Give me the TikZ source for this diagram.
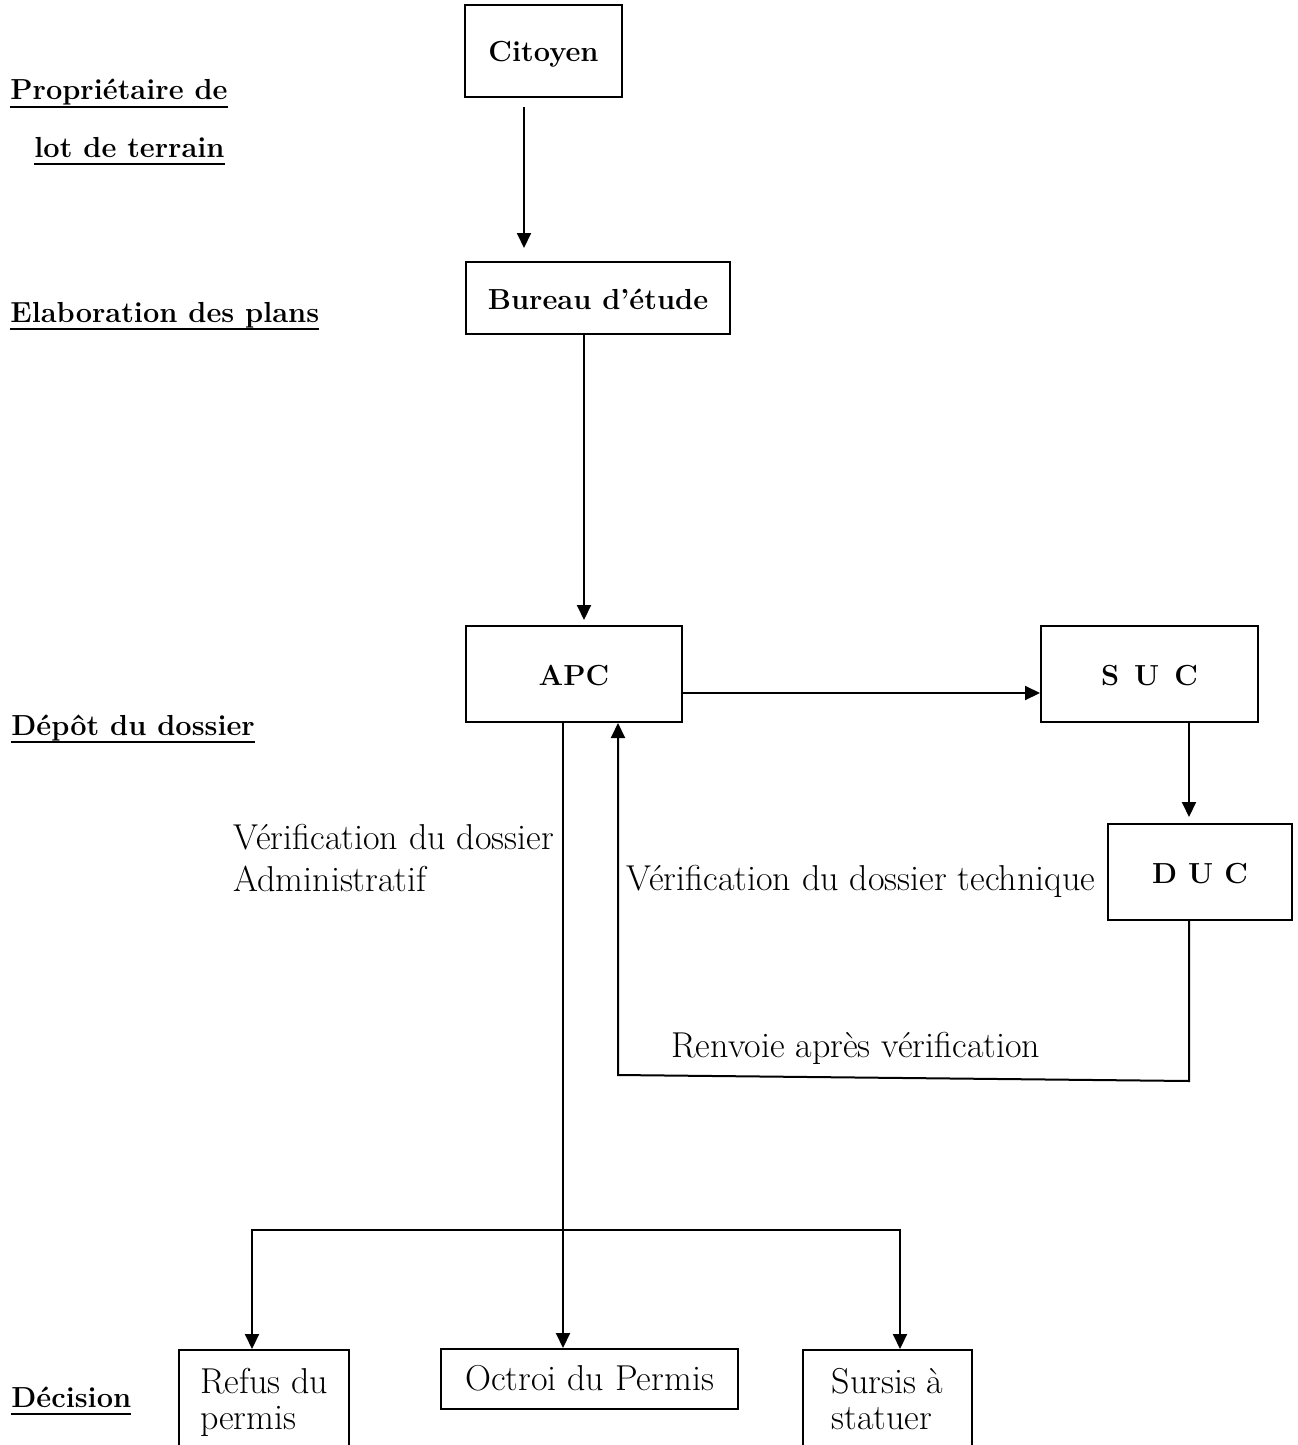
\documentclass[tikz,border=0pt]{standalone}
\usetikzlibrary{arrows.meta,calc}

% underlined heading, rule crossing the descenders as in a word processor
\newcommand\hdul[1]{\setbox0\hbox{#1}\rlap{\rule[-4pt]{\wd0}{1pt}}\box0}

\tikzset{
  rmfont/.style={font=\fontsize{18}{18}\selectfont},
  bffont/.style={font=\fontsize{14.5}{18}\selectfont\bfseries},
  head/.style={bffont, inner sep=0pt, anchor=base west},
  lbl/.style={rmfont, inner sep=0pt, anchor=base west},
  box/.style={draw, line width=1pt, inner sep=0pt, text height=12pt, text depth=1pt},
  bbox/.style={box, bffont},
  rbox/.style={box, rmfont},
  tallbox/.style={draw, line width=1pt, anchor=north west, align=left,
    inner xsep=10.5pt, inner ysep=0pt, rmfont},
  arr/.style={line width=1pt, -{Triangle[length=7.5pt,width=7pt]}},
}

\begin{document}
\begin{tikzpicture}[x=0.5pt,y=-0.5pt]
\useasboundingbox (0,0) rectangle (1297,1445);

% stage headings
\node[head] (h1) at (10,100) {\hdul{Propriétaire de}};
\node[head] (h2) at (34,157) {\hdul{lot de terrain}};
\node[head] (h3) at (10,322) {\hdul{Elaboration des plans}};
\node[head] (h4) at (11,735) {\hdul{Dépôt du dossier}};
\node[head] (h5) at (11,1407) {\hdul{Décision}};

% actors
\node[bbox, minimum width=78.5pt, minimum height=46pt] (cit) at (543.5,51) {Citoyen};
\node[bbox, minimum width=132pt, minimum height=36pt] (bur) at (598,298) {Bureau d’étude};
\node[bbox, minimum width=108pt, minimum height=48pt] (apc) at (574,674) {APC};
\node[bbox, minimum width=108.5pt, minimum height=48pt] (suc) at (1149.5,674) {S\hspace{7.5pt}U\hspace{7.5pt}C};
\node[bbox, minimum width=92pt, minimum height=48pt] (duc) at (1200,872) {D\hspace{5.5pt}U\hspace{5.5pt}C};

% decisions
\node[rbox, minimum width=148.5pt, minimum height=30pt] (oct) at (589.5,1379) {Octroi du Permis};
\node[tallbox, minimum width=84pt] (ref) at (178,1349)
  {\rule{0pt}{21.5pt}Refus du\\permis\rule[-14pt]{0pt}{14pt}};
\node[tallbox, minimum width=84.5pt] (sur) at (802,1349)
  {\rule{0pt}{21.5pt}Sursis à\\statuer\rule[-14pt]{0pt}{14pt}};

% flow
\draw[arr] ($(cit.south)+(-19.5,9)$) -- ($(bur.north)+(-74,-13)$);
\draw[arr] ($(bur.south)+(-14,0)$) -- ($(apc.north)+(10,-5)$);
\draw[arr] ($(apc.east)+(0,19)$) -- ($(suc.west)+(0,19)$);
\draw[arr] ($(suc.south)+(39.5,0)$) -- ($(duc.north)+(-11,-6)$);
\draw[arr] ($(duc.south)+(-11,0)$) -- ($(duc.south)+(-11,160)$)
  -- ($(apc.south)+(44,352)$) -- ($(apc.south)+(44,0)$);

% administrative check and decision branches
\coordinate (br) at ($(apc.south)+(-11,507)$);
\draw[arr] ($(apc.south)+(-11,0)$) -- ($(oct.north)+(-26.5,0)$);
\draw[arr] (br) -| ($(ref.north)+(-12,0)$);
\draw[arr] (br) -| ($(sur.north)+(12.5,0)$);

% annotations
\node[lbl] (va1) at (233,849) {Vérification du dossier};
\node[lbl] (va2) at (233,891) {Administratif};
\node[lbl] (vt) at (626,890) {Vérification du dossier technique};
\node[lbl] (rv) at (671,1057) {Renvoie après vérification};
\end{tikzpicture}
\end{document}
